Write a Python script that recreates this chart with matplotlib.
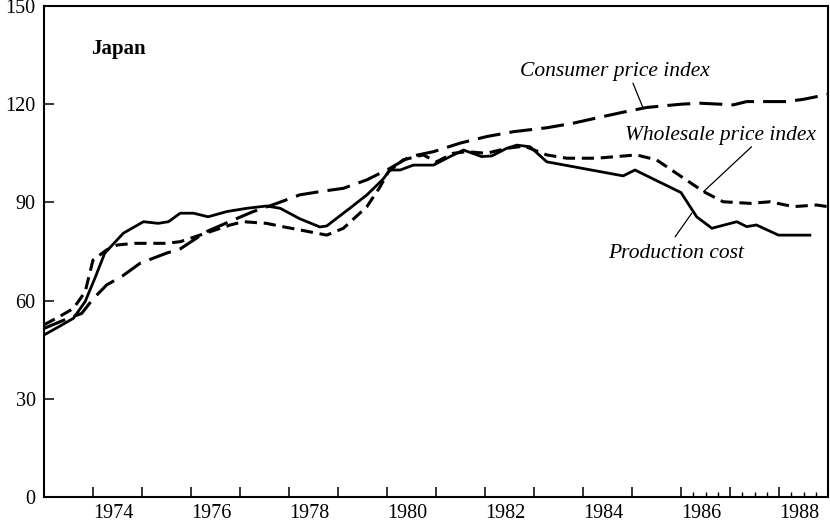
import matplotlib
matplotlib.use("Agg")
import matplotlib.pyplot as plt
from matplotlib.ticker import FixedLocator, NullFormatter

# ---- data ----
pc_x = [1973.0, 1973.3, 1973.6, 1973.84, 1974.04, 1974.24, 1974.62, 1975.03, 1975.33, 1975.54,
        1975.78, 1976.05, 1976.35, 1976.73, 1977.14, 1977.54, 1977.82, 1978.22, 1978.63, 1978.77,
        1979.24, 1979.59, 1979.92, 1980.06, 1980.27, 1980.54, 1980.95, 1981.22, 1981.56, 1981.93,
        1982.14, 1982.44, 1982.65, 1982.92, 1983.26, 1984.82, 1985.06, 1986.0, 1986.32, 1986.63,
        1987.14, 1987.34, 1987.54, 1987.99, 1988.63]
pc_y = [49.5, 52.0, 54.6, 59.7, 66.9, 74.5, 80.6, 84.1, 83.6, 84.1,
        86.7, 86.7, 85.6, 87.2, 88.2, 88.9, 88.2, 85.0, 82.5, 82.8,
        88.2, 92.3, 97.1, 99.9, 99.9, 101.4, 101.4, 103.5, 106.0, 104.0,
        104.2, 106.5, 107.5, 107.0, 102.4, 98.1, 99.9, 93.0, 85.6, 82.1,
        84.1, 82.6, 83.1, 80.0, 80.0]

wpi_x = [1973.0, 1973.3, 1973.6, 1973.84, 1974.0, 1974.28, 1974.5, 1974.85, 1975.5, 1975.78,
         1976.3, 1976.8, 1977.07, 1977.54, 1977.9, 1978.22, 1978.77, 1979.11, 1979.59, 1979.86,
         1980.03, 1980.33, 1980.74, 1981.01, 1981.35, 1981.63, 1982.03, 1982.44, 1982.8, 1983.26,
         1983.67, 1984.28, 1985.09, 1985.5, 1986.46, 1986.86, 1987.41, 1987.82, 1988.29, 1988.77,
         1989.0]
wpi_y = [52.6, 55.0, 57.6, 62.7, 72.4, 75.5, 77.0, 77.5, 77.5, 78.0,
         80.6, 83.1, 84.1, 83.6, 82.5, 81.6, 80.0, 82.1, 88.7, 94.8,
         99.4, 103.0, 104.5, 102.4, 105.0, 105.5, 105.0, 106.5, 107.2, 104.5,
         103.5, 103.5, 104.5, 103.0, 93.3, 90.2, 89.7, 90.2, 88.7, 89.2,
         88.7]

cpi_x = [1973.0, 1973.4, 1973.77, 1974.0, 1974.28, 1974.6, 1974.96, 1975.5, 1975.78, 1976.32,
         1976.86, 1977.27, 1977.75, 1978.22, 1978.63, 1979.11, 1979.59, 1980.06, 1980.47, 1980.95,
         1981.49, 1982.03, 1982.58, 1983.26, 1983.8, 1984.28, 1984.8, 1985.3, 1986.0, 1986.39,
         1986.8, 1987.07, 1987.34, 1988.16, 1988.5, 1989.0]
cpi_y = [51.5, 54.0, 56.1, 60.5, 64.8, 67.5, 71.4, 74.5, 75.8, 81.1,
         84.6, 87.2, 89.7, 92.3, 93.3, 94.3, 96.9, 100.4, 104.0, 105.5,
         108.1, 110.1, 111.6, 112.8, 114.2, 115.8, 117.5, 119.0, 120.0, 120.3,
         120.0, 119.8, 120.8, 120.8, 121.5, 123.0]

year_ticks = list(range(1973, 1990))
label_years = [1974, 1976, 1978, 1980, 1982, 1984, 1986, 1988]
y_ticks = [0, 30, 60, 90, 120, 150]

plt.rcParams['font.family'] = ['Liberation Serif', 'DejaVu Serif']

fig = plt.figure(figsize=(8.3, 5.27), dpi=100)
ax = fig.add_axes([44 / 830, 30 / 527, 784 / 830, 491 / 527])

ax.plot(pc_x, pc_y, color='black', lw=2.0, solid_joinstyle='round')
ax.plot(wpi_x, wpi_y, color='black', lw=2.2, dashes=(4.0, 2.2))
ax.plot(cpi_x, cpi_y, color='black', lw=2.2, dashes=(7.5, 3.0))

ax.set_xlim(1973, 1989)
ax.set_ylim(0, 150)

# x ticks: yearly marks, quarterly minor marks 1986-1988, labels mid-year
ax.xaxis.set_major_locator(FixedLocator(year_ticks))
ax.xaxis.set_major_formatter(NullFormatter())
quarters = [y + q for y in (1986, 1987, 1988) for q in (0.25, 0.5, 0.75)]
ax.xaxis.set_minor_locator(FixedLocator(quarters))
ax.tick_params(axis='x', which='major', direction='in', length=7, width=1.1)
ax.tick_params(axis='x', which='minor', direction='in', length=3.5, width=1.0)

sec = ax.secondary_xaxis('bottom')
sec.set_xticks([y + 0.42 for y in label_years], [str(y) for y in label_years])
sec.tick_params(length=0, pad=5, labelsize=14.5)
sec.spines['bottom'].set_visible(False)

ax.set_yticks(y_ticks)
ax.tick_params(axis='y', direction='in', length=7, width=1.1, pad=6, labelsize=14.5)

for s in ax.spines.values():
    s.set_linewidth(1.5)

ax.text(1973.97, 135.3, 'Japan', fontsize=15, fontweight='bold', ha='left', va='baseline')
ax.text(1982.71, 128.6, 'Consumer price index', fontsize=15.5, style='italic',
        ha='left', va='baseline')
ax.text(1984.86, 109.1, 'Wholesale price index', fontsize=15.5, style='italic',
        ha='left', va='baseline')
ax.text(1984.52, 72.9, 'Production cost', fontsize=15.5, style='italic',
        ha='left', va='baseline')

lk = dict(arrowstyle='-', lw=0.9, color='black', shrinkA=0, shrinkB=0)
ax.annotate('', xy=(1985.23, 118.7), xytext=(1985.02, 126.4), arrowprops=lk)
ax.annotate('', xy=(1986.46, 93.3), xytext=(1987.44, 107.0), arrowprops=lk)
ax.annotate('', xy=(1986.22, 86.7), xytext=(1985.88, 79.5), arrowprops=lk)

fig.savefig('out.png', dpi=100)
